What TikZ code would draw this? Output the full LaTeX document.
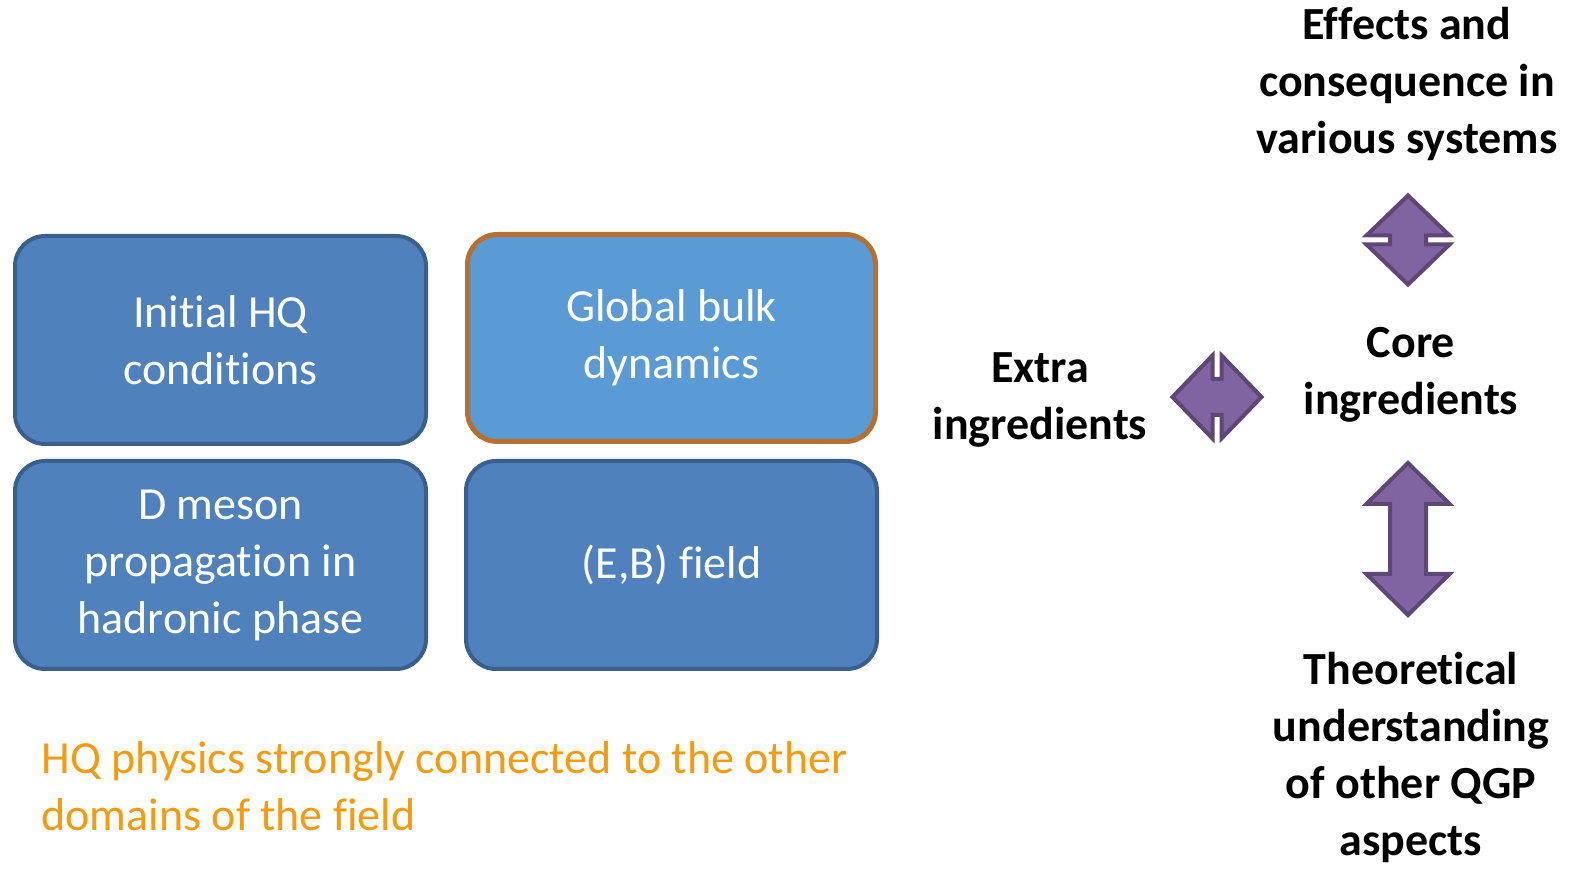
\documentclass[tikz,border=0pt]{standalone}
\usepackage{fontspec}
\setmainfont{Carlito}[Ligatures=NoCommon]
\definecolor{darkbox}{HTML}{4F81BD}
\definecolor{darkboxline}{HTML}{3A5F8B}
\definecolor{lightbox}{HTML}{5B9BD5}
\definecolor{lightboxline}{HTML}{B86F32}
\definecolor{arrowfill}{HTML}{8064A2}
\definecolor{arrowline}{HTML}{5C4776}
\definecolor{notecolor}{HTML}{F79A0E}
\tikzset{
  hqbox/.style={rectangle,rounded corners=30bp,fill=darkbox,draw=darkboxline,line width=4bp,
    minimum width=411bp,minimum height=208bp,align=center,text=white,
    font=\fontsize{46bp}{57bp}\selectfont},
  bulkbox/.style={hqbox,fill=lightbox,draw=lightboxline,line width=5bp,
    minimum width=408bp,minimum height=207bp},
  sidelabel/.style={align=center,font=\fontsize{46bp}{57bp}\selectfont\bfseries},
  purplearrow/.style={fill=arrowfill,draw=arrowline,line width=4bp,line join=miter},
}
\begin{document}
\begin{tikzpicture}[x=1bp,y=1bp]
\useasboundingbox (0bp,0bp) rectangle (1589bp,877bp);
%%
\node (initial) at (220.5bp,537bp) [hqbox] {Initial HQ\\conditions};
  \node (bulk) at (671.5bp,539bp) [bulkbox] {Global bulk\\dynamics};
  \node (dmeson) at (220.5bp,312bp) [hqbox] {D meson\\propagation in\\hadronic phase};
  \node (field) at (671.5bp,312bp) [hqbox] {(E,B) field};
  \node (note) at (38bp,91bp) [anchor=west,align=left,text=notecolor,
    font=\fontsize{46bp}{57bp}\selectfont] {HQ physics strongly connected to the other\\domains of the field};
%
\node (effects) at (1407bp,793bp) [sidelabel] {Effects and\\consequence in\\various systems};
  \node (core) at (1411bp,502bp) [sidelabel] {Core\\ingredients};
  \node (extra) at (1040bp,477bp) [sidelabel] {Extra\\ingredients};
  \node (theory) at (1411bp,120bp) [sidelabel] {Theoretical\\understanding\\of other QGP\\aspects};
%
\draw [purplearrow,shift={(1408bp,637bp)}] (0,44.5) -- (41.5,4.5) -- (18,4.5) -- (18,-4.5) -- (41.5,-4.5) -- (0,-44.5)
  -- (-41.5,-4.5) -- (-18,-4.5) -- (-18,4.5) -- (-41.5,4.5) -- cycle;
  \draw [purplearrow,shift={(1217bp,480bp)},rotate=90] (0,44.5) -- (41.5,4.5) -- (18,4.5) -- (18,-4.5) -- (41.5,-4.5) -- (0,-44.5)
  -- (-41.5,-4.5) -- (-18,-4.5) -- (-18,4.5) -- (-41.5,4.5) -- cycle;
  \draw [purplearrow,shift={(1408bp,338bp)}] (0,76) -- (41.5,35) -- (18,35) -- (18,-35) -- (41.5,-35) -- (0,-76)
  -- (-41.5,-35) -- (-18,-35) -- (-18,35) -- (-41.5,35) -- cycle;
%
\end{tikzpicture}
\end{document}
